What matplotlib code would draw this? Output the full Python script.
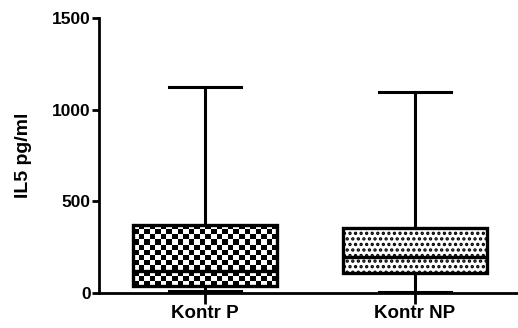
import numpy as np
import matplotlib.pyplot as plt

plt.rcParams['font.family'] = ['Liberation Sans', 'DejaVu Sans']
plt.rcParams['font.weight'] = 'bold'
plt.rcParams['hatch.linewidth'] = 1.6

groups = ['Kontr P', 'Kontr NP']
whislo = [10, 4]
q1 = [40, 107]
med = [120, 198]
q3 = [374, 353]
whishi = [1124, 1096]

stats = []
for i in range(len(groups)):
    stats.append(dict(label=groups[i], whislo=whislo[i], q1=q1[i], med=med[i],
                      q3=q3[i], whishi=whishi[i], fliers=[]))

fig = plt.figure(figsize=(5.18, 3.28), dpi=100)
ax = fig.add_axes([99 / 518, 35 / 328, 418 / 518, 274.7 / 328])

bp = ax.bxp(stats, positions=[1, 2], widths=0.686, patch_artist=True,
            showfliers=False,
            boxprops=dict(linewidth=2.4, edgecolor='black', facecolor='white'),
            medianprops=dict(color='black', linewidth=2.4),
            whiskerprops=dict(color='black', linewidth=2.2),
            capprops=dict(color='black', linewidth=2.2),
            capwidths=0.34)

# checkerboard fill for first box
box1 = bp['boxes'][0]
checker = np.indices((12, 26)).sum(axis=0) % 2
im = ax.imshow(checker, cmap='gray_r', vmin=0, vmax=1, interpolation='nearest',
               extent=[1 - 0.343, 1 + 0.343, q1[0], q3[0]], aspect='auto', zorder=1.5)
im.set_clip_path(box1)
box1.set_facecolor('none')
box1.set_zorder(2)

# dotted fill for second box
bp['boxes'][1].set_hatch('...')

ax.set_xlim(0.495, 2.486)
ax.set_ylim(0, 1500)
ax.set_yticks([0, 500, 1000, 1500])
ax.set_xticks([1, 2])
ax.set_xticklabels(groups, fontsize=13.5, fontweight='bold')
ax.tick_params(axis='y', labelsize=12.5, width=2, length=5, pad=1)
ax.tick_params(axis='x', width=2, length=8, pad=1)
ax.set_ylabel('IL5 pg/ml', fontsize=14, fontweight='bold', labelpad=14)
for s in ['top', 'right']:
    ax.spines[s].set_visible(False)
for s in ['left', 'bottom']:
    ax.spines[s].set_linewidth(2)

fig.savefig('out.png', dpi=100)
